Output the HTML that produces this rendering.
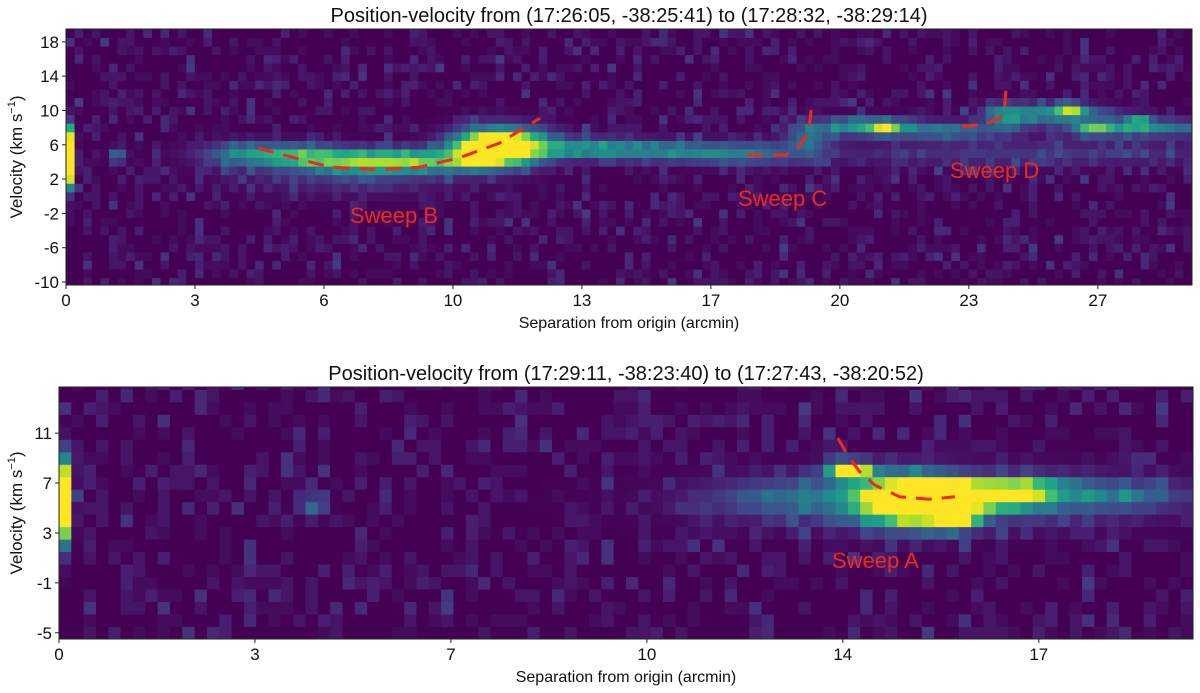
<!DOCTYPE html>
<html><head><meta charset="utf-8"><style>
html,body{margin:0;padding:0;background:#fff;width:1200px;height:693px;overflow:hidden}
svg{display:block;font-family:"Liberation Sans","DejaVu Sans",sans-serif}
</style></head><body>
<svg id="fig" width="1200" height="693" viewBox="0 0 1200 693"></svg>
<script>
// ---------- DATA ----------
// Top panel
const topXTicks = [0, 3.333, 6.667, 10, 13.333, 16.667, 20, 23.333, 26.667];
const topXTickLabels = ["0","3","6","10","13","17","20","23","27"];
const topYTicks = [18, 14, 10, 6, 2, -2, -6, -10];
const topYTickLabels = ["18","14","10","6","2","-2","-6","-10"];
// emission components: x centre (arcmin), v centre, x width, v width, amplitude
const topBlobX  = [0.1, 1.35, 4.8, 6.3, 7.8, 9.3, 11.2, 10.6, 13.3, 15.3, 17.5, 19.2, 20.6, 21.2, 22.6, 24.3, 25.6, 26.0, 26.6, 27.8, 27.75, 25.0, 7.5];
const topBlobV  = [4.6, 4.8, 5.0, 4.6, 4.0, 4.2, 5.8, 4.6, 5.6, 5.3, 5.0, 7.0, 8.2, 8.0, 7.7, 9.2, 9.7, 10.2, 7.9, 8.0, 8.8, 5.0, 2.5];
const topBlobXW = [0.08, 0.15, 0.9, 0.9, 0.9, 0.9, 0.75, 0.4, 1.1, 1.1, 1.1, 0.4, 0.7, 0.25, 1.0, 0.35, 0.9, 0.2, 0.35, 1.3, 0.2, 4.0, 2.0];
const topBlobVW = [2.0, 0.6, 0.9, 0.9, 0.9, 0.9, 1.4, 0.9, 0.8, 0.8, 0.9, 1.2, 0.7, 0.5, 0.7, 1.1, 0.7, 0.5, 0.5, 0.7, 0.5, 1.0, 1.5];
const topBlobAmp= [2.0, 0.35, 0.42, 0.5, 0.55, 0.55, 1.5, 0.5, 0.45, 0.33, 0.35, 0.35, 0.55, 0.5, 0.4, 0.4, 0.55, 0.55, 0.5, 0.45, 0.5, 0.15, 0.15];
const sweepBX = [4.96, 6.82, 8.11, 9.15, 10.18, 11.2, 12.25];
const sweepBV = [5.6, 3.4, 3.1, 3.4, 4.5, 6.2, 9.1];
const sweepCX = [17.6, 18.6, 18.97, 19.2, 19.25, 19.28];
const sweepCV = [4.8, 4.8, 6.0, 7.5, 9.8, 11.2];
const sweepDX = [23.15, 23.75, 24.13, 24.26, 24.29];
const sweepDV = [8.1, 8.4, 9.1, 10.3, 12.4];
// Bottom panel
const botXTicks = [0, 3.333, 6.667, 10, 13.333, 16.667];
const botXTickLabels = ["0","3","7","10","14","17"];
const botYTicks = [11, 7, 3, -1, -5];
const botYTickLabels = ["11","7","3","-1","-5"];
const botBlobX  = [0.1, 4.3, 13.45, 14.5, 15.6, 15.3, 15.2, 12.3, 16.4, 18.0];
const botBlobV  = [5.6, 5.2, 8.0, 5.6, 6.0, 4.0, 5.8, 5.8, 7.0, 6.0];
const botBlobXW = [0.08, 0.15, 0.25, 0.6, 0.75, 0.25, 2.2, 0.9, 0.6, 0.8];
const botBlobVW = [2.0, 0.6, 0.5, 1.3, 0.6, 0.5, 1.4, 1.0, 0.4, 0.8];
const botBlobAmp= [1.8, 0.35, 1.2, 1.4, 1.4, 0.8, 0.35, 0.2, 0.35, 0.2];
const sweepAX = [13.25, 13.42, 13.62, 13.88, 14.3, 14.8, 15.24];
const sweepAV = [10.6, 9.2, 7.9, 6.84, 5.9, 5.7, 5.9];
// hand-typed background noise digits
const noiseA = "0130201002310410203001202140031002013020140201300210412003102010320140021030120041023001302010";
const noiseB = "20103001420100302104010230012040103020010320401002103012040102003104020103001240102301";

// ---------- HELPERS ----------
const NS = "http://www.w3.org/2000/svg";
const svg = document.getElementById("fig");
function mk(tag, attrs, parent){const e=document.createElementNS(NS,tag);for(const k in attrs)e.setAttribute(k,attrs[k]);(parent||svg).appendChild(e);return e;}
const stops=[[68,1,84],[72,36,117],[65,68,135],[53,95,141],[42,120,142],[33,145,140],[34,168,132],[68,191,112],[122,209,81],[189,223,38],[253,231,37]];
function viridis(t){t=Math.max(0,Math.min(1,t))*10;const i=Math.min(9,Math.floor(t)),f=t-i,a=stops[i],b=stops[i+1];
 return "rgb("+Math.round(a[0]+(b[0]-a[0])*f)+","+Math.round(a[1]+(b[1]-a[1])*f)+","+Math.round(a[2]+(b[2]-a[2])*f)+")";}

function panel(o){
 const g=mk("g",{});
 
 
 const sx=x=>o.L+(x-o.x0)/(o.x1-o.x0)*(o.R-o.L);
 const sy=v=>o.B-(v-o.v0)/(o.v1-o.v0)*(o.B-o.T);
 const cells=mk("g",{},g);
 
 
 const cw=(o.x1-o.x0)/o.ncol;
 for(let c=0;c<o.ncol;c++){
  const xc=o.x0+(c+0.5)*cw;
  for(let vb=o.vStart;vb<o.v1;vb+=1){
   const vc=vb+0.5;
   let val=0;
   for(let k=0;k<o.bx.length;k++){
    const dx=(xc-o.bx[k])/o.bxw[k],dv=(vc-o.bv[k])/o.bvw[k];
    val+=o.ba[k]*Math.exp(-0.5*(dx*dx+dv*dv));
   }
   const idx=c*37+Math.round(vb-o.vStart)*11;
   val+= Math.max(0,(+noiseA[idx%noiseA.length] + +noiseB[(idx*3)%noiseB.length])-2)*0.028;
   const x0=sx(o.x0+c*cw),x1=sx(o.x0+(c+1)*cw);
   const yTop=sy(Math.min(vb+1,o.v1)),yBot=sy(Math.max(vb,o.v0));
   const r=mk("rect",{x:x0.toFixed(2),y:yTop.toFixed(2),width:(x1-x0+0.4).toFixed(2),height:(yBot-yTop+0.4).toFixed(2),fill:viridis(val)},cells);
   
   
  }
 }
 const fr=mk("rect",{x:o.L,y:o.T,width:o.R-o.L,height:o.B-o.T,fill:"none",stroke:"#222","stroke-width":1},g);
 
 
 o.xt.forEach((t,i)=>{const x=sx(t);mk("line",{x1:x,x2:x,y1:o.B,y2:o.B+4,stroke:"#222"},g);
  const tx=mk("text",{x:x,y:o.B+21,"text-anchor":"middle","font-size":17,fill:"#111"},g);tx.textContent=o.xl[i];
  
  });
 o.yt.forEach((t,i)=>{const y=sy(t);mk("line",{x1:o.L-4,x2:o.L,y1:y,y2:y,stroke:"#222"},g);
  const tx=mk("text",{x:o.L-7,y:y+6,"text-anchor":"end","font-size":17,fill:"#111"},g);tx.textContent=o.yl[i];
  
  });
 const ti=mk("text",{x:(o.L+o.R)/2,y:o.T-7,"text-anchor":"middle","font-size":20,fill:"#111"},g);ti.textContent=o.title;
 
 
 const xa=mk("text",{x:(o.L+o.R)/2,y:o.B+43,"text-anchor":"middle","font-size":16,fill:"#111"},g);xa.textContent="Separation from origin (arcmin)";
 
 
 const ya=mk("text",{transform:"translate(22,"+((o.T+o.B)/2)+") rotate(-90)","text-anchor":"middle","font-size":17,fill:"#111"},g);
 ya.innerHTML='Velocity (km s<tspan font-size="11" dy="-7">−1</tspan><tspan dy="7">)</tspan>';
 
 
 o.sweeps.forEach(s=>{
  const d=s.x.map((x,i)=>(i?"L":"M")+sx(x).toFixed(1)+","+sy(s.v[i]).toFixed(1)).join(" ");
  const p=mk("path",{d:d,fill:"none",stroke:"#f0281e","stroke-width":3,"stroke-dasharray":"16,10"},g);
  
  
  const t=mk("text",{x:s.lx,y:s.ly,"font-size":22,fill:"#f0281e"},g);t.textContent=s.label;
  
  
 });
}
panel({name:"top-panel",L:66,R:1192,T:29,B:285,x0:0,x1:29.1,v0:-10.35,v1:19.5,vStart:-10.5,ncol:131,
 xt:topXTicks,xl:topXTickLabels,yt:topYTicks,yl:topYTickLabels,
 bx:topBlobX,bv:topBlobV,bxw:topBlobXW,bvw:topBlobVW,ba:topBlobAmp,
 title:"Position-velocity from (17:26:05, -38:25:41) to (17:28:32, -38:29:14)",
 sweeps:[{name:"sweep-b",x:sweepBX,v:sweepBV,label:"Sweep B",lx:350,ly:223},
         {name:"sweep-c",x:sweepCX,v:sweepCV,label:"Sweep C",lx:738,ly:206},
         {name:"sweep-d",x:sweepDX,v:sweepDV,label:"Sweep D",lx:950,ly:178}]});
panel({name:"bottom-panel",L:59,R:1193,T:387,B:639,x0:0,x1:19.29,v0:-5.5,v1:14.7,vStart:-5.5,ncol:92,
 xt:botXTicks,xl:botXTickLabels,yt:botYTicks,yl:botYTickLabels,
 bx:botBlobX,bv:botBlobV,bxw:botBlobXW,bvw:botBlobVW,ba:botBlobAmp,
 title:"Position-velocity from (17:29:11, -38:23:40) to (17:27:43, -38:20:52)",
 sweeps:[{name:"sweep-a",x:sweepAX,v:sweepAV,label:"Sweep A",lx:832,ly:568}]});
</script>
</body></html>
